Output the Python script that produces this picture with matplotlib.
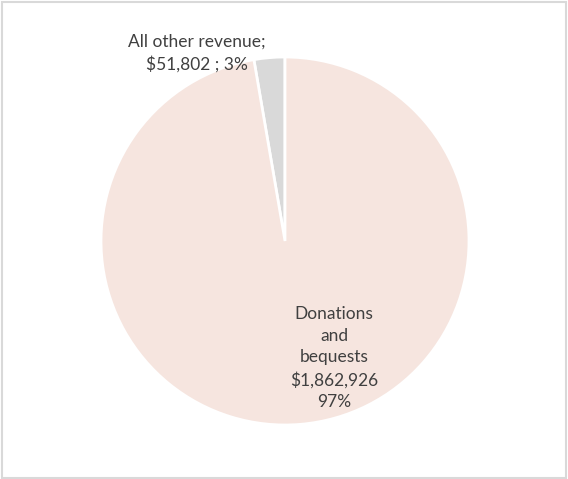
import matplotlib.pyplot as plt
from matplotlib.patches import Rectangle

categories = ["All other revenue", "Donations and bequests"]
amounts = [51802, 1862926]
label_texts = ["All other revenue;\n$51,802 ; 3%", "Donations\nand\nbequests\n$1,862,926\n97%"]
colors = ["#D9D9D9", "#F6E5DF"]

plt.rcParams['font.family'] = ['Lato', 'DejaVu Sans']

fig = plt.figure(figsize=(5.68, 4.79), dpi=100)
fig.patches.append(Rectangle((0.003, 0.003), 0.994, 0.993, transform=fig.transFigure,
                             fill=False, edgecolor="#D9D9D9", linewidth=1.5))

r = 184
cx, cy = 285, 479 - 241
ax = fig.add_axes([(cx - r) / 568, (cy - r) / 479, 2 * r / 568, 2 * r / 479])
wedges, _ = ax.pie(amounts, colors=colors, startangle=90, counterclock=True,
                   wedgeprops=dict(edgecolor="white", linewidth=2))
ax.set_xlim(-1, 1)
ax.set_ylim(-1, 1)
ax.set_aspect("equal")
ax.axis("off")

# label positions (data coords)
ax.text(-0.478, 1.02, label_texts[0], ha="center", va="center", fontsize=12.5,
        color="#404040", linespacing=1.45, clip_on=False)
ax.text(0.266, -0.636, label_texts[1], ha="center", va="center", fontsize=12.5,
        color="#404040", linespacing=1.45)

fig.savefig("out.png", dpi=100)
